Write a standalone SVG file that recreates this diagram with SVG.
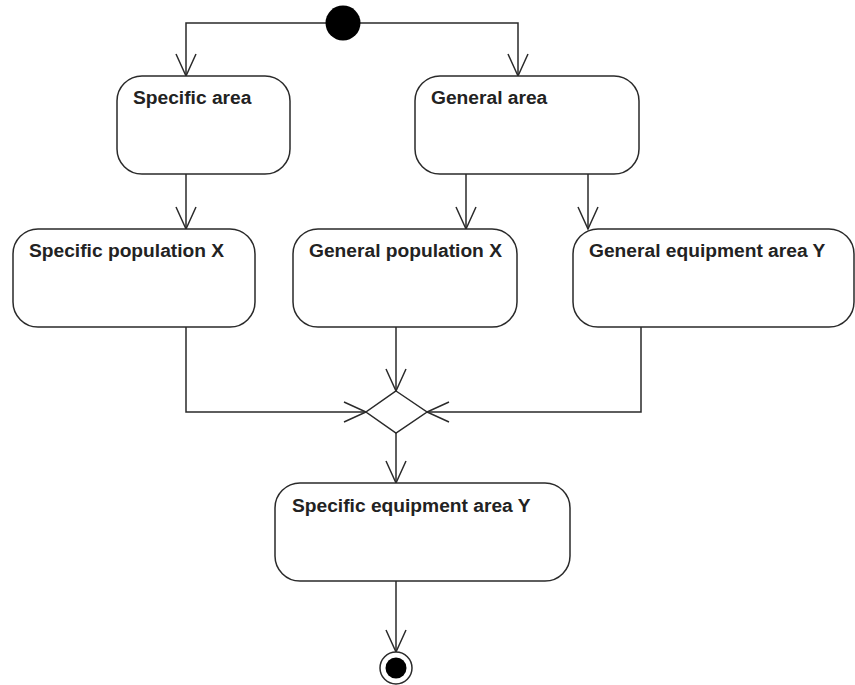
<svg xmlns="http://www.w3.org/2000/svg" width="855" height="685" viewBox="0 0 855 685">
<defs>
<style>
.node rect{fill:#fff;stroke:#2a2a2a;stroke-width:1.5}
.node text{font-family:"Liberation Sans",Arial,sans-serif;font-weight:bold;font-size:19.2px;fill:#222}
.conn path{fill:none;stroke:#2a2a2a;stroke-width:1.5}
</style>
<marker id="arr" markerUnits="userSpaceOnUse" markerWidth="30" markerHeight="30" viewBox="-25 -15 30 30" refX="0" refY="0" orient="auto">
<path d="M-22,-10 L0,0 L-22,10" fill="none" stroke="#2a2a2a" stroke-width="1.5"/>
</marker>
</defs>
<rect width="855" height="685" fill="#fff"/>
<g class="conn" id="connectors">
<path d="M326,23 H186 V76" marker-end="url(#arr)"/>
<path d="M360,23 H518 V76" marker-end="url(#arr)"/>
<path d="M186,174 V229" marker-end="url(#arr)"/>
<path d="M466,174 V229" marker-end="url(#arr)"/>
<path d="M588,174 V229" marker-end="url(#arr)"/>
<path d="M186,327 V412 H366" marker-end="url(#arr)"/>
<path d="M396,327 V391" marker-end="url(#arr)"/>
<path d="M641,327 V412 H427" marker-end="url(#arr)"/>
<path d="M396,433 V483" marker-end="url(#arr)"/>
<path d="M396,581 V652" marker-end="url(#arr)"/>
</g>
<g id="initial"><circle cx="343" cy="23" r="17.5" fill="#000"/></g>
<g id="specific-area" class="node"><rect x="117" y="76" width="173" height="98" rx="25"/><text x="133" y="104">Specific area</text></g>
<g id="general-area" class="node"><rect x="415" y="76" width="224" height="98" rx="25"/><text x="431" y="104">General area</text></g>
<g id="specific-population" class="node"><rect x="13" y="229" width="242" height="98" rx="25"/><text x="29" y="257">Specific population X</text></g>
<g id="general-population" class="node"><rect x="293" y="229" width="224" height="98" rx="25"/><text x="309" y="257">General population X</text></g>
<g id="general-equipment" class="node"><rect x="573" y="229" width="281" height="98" rx="25"/><text x="589" y="257">General equipment area Y</text></g>
<g id="merge"><path d="M396,391 L427,412 L396,433 L366,412 Z" fill="#fff" stroke="#2a2a2a" stroke-width="1.5"/></g>
<g id="specific-equipment" class="node"><rect x="275" y="483" width="295" height="98" rx="25"/><text x="292" y="512">Specific equipment area Y</text></g>
<g id="final"><circle cx="396" cy="668" r="16" fill="#fff" stroke="#2a2a2a" stroke-width="1.5"/><circle cx="396" cy="668" r="10.5" fill="#000"/></g>
</svg>
